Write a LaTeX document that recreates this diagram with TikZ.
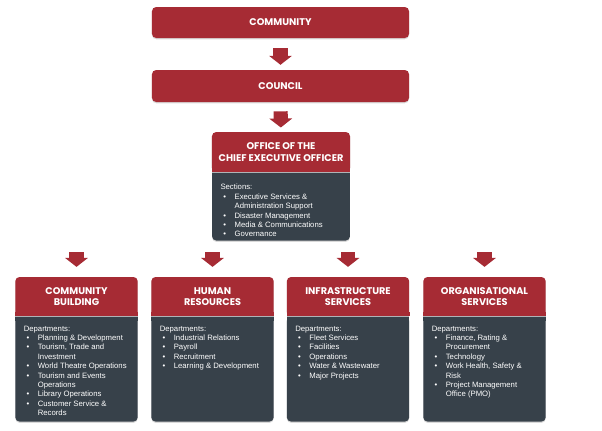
\documentclass[tikz,border=0pt]{standalone}
\usepackage{fontspec}
\newfontfamily\headfont{Poppins}
\newfontfamily\bodyfont{Liberation Sans}
\usetikzlibrary{arrows.meta,shadows}

\definecolor{orgred}{RGB}{166,43,52}
\definecolor{orgslate}{RGB}{55,65,74}

% one bullet line with hanging indent
\newcommand{\itm}[1]{\par\noindent\hangindent=10pt\hangafter=1\makebox[10pt][l]{\hspace{2pt}\textbullet}#1}
% height, width, top padding, lines
\newcommand{\deptlist}[4]{\parbox[c][#1][t]{#2}{\raggedright\vspace*{#3}#4}}

\begin{document}
\begin{tikzpicture}[x=0.025cm,y=-0.025cm,
    box/.style={fill=orgred,rounded corners=3pt,text=white,inner sep=0pt,align=center,
      font=\headfont\bfseries\fontsize{6.9}{8.2}\selectfont,
      drop shadow={shadow xshift=0pt,shadow yshift=-0.9pt,opacity=0.3}},
    deptbox/.style={fill=orgslate,rounded corners=3pt,text=white,anchor=north,
      inner xsep=6pt,inner ysep=0pt,font=\bodyfont\fontsize{5.5}{6.64}\selectfont,
      drop shadow={shadow xshift=0pt,shadow yshift=-0.9pt,opacity=0.3}},
    flow/.style={color=orgred,line width=10pt,-{Triangle[width=16pt,length=6.4pt]}}]
  \useasboundingbox (0,0) rectangle (602,430);

  \node[box,minimum width=6.425cm,minimum height=0.775cm] (community) at (280.5,22.5) {COMMUNITY};
  \node[box,minimum width=6.425cm,minimum height=0.8cm] (council) at (280.5,86) {COUNCIL};

  \node[box,minimum width=3.45cm,minimum height=1cm] (ceo) at (281,152) {OFFICE OF THE\\CHIEF EXECUTIVE OFFICER};
  \node[deptbox] (ceo-body) at (ceo.south) {\deptlist{1.7cm}{86pt}{8.4pt}{Sections:
      \itm{Executive Services \&\newline Administration Support}
      \itm{Disaster Management}
      \itm{Media \& Communications}
      \itm{Governance}}};

  \node[box,minimum width=3.06cm,minimum height=0.975cm] (cb) at (76.5,296.5) {COMMUNITY\\BUILDING};
  \node[deptbox] (cb-body) at (cb.south) {\deptlist{2.625cm}{75pt}{6.7pt}{Departments:
      \itm{Planning \& Development}
      \itm{Tourism, Trade and\newline Investment}
      \itm{World Theatre Operations}
      \itm{Tourism and Events\newline Operations}
      \itm{Library Operations}
      \itm{Customer Service \&\newline Records}}};

  \node[box,minimum width=3.06cm,minimum height=0.975cm] (hr) at (212.5,296.5) {HUMAN\\RESOURCES};
  \node[deptbox] (hr-body) at (hr.south) {\deptlist{2.625cm}{75pt}{6.7pt}{Departments:
      \itm{Industrial Relations}
      \itm{Payroll}
      \itm{Recruitment}
      \itm{Learning \& Development}}};

  \node[box,minimum width=3.06cm,minimum height=0.975cm] (infra) at (348,296.5) {INFRASTRUCTURE\\SERVICES};
  \node[deptbox] (infra-body) at (infra.south) {\deptlist{2.625cm}{75pt}{6.7pt}{Departments:
      \itm{Fleet Services}
      \itm{Facilities}
      \itm{Operations}
      \itm{Water \& Wastewater}
      \itm{Major Projects}}};

  \node[box,minimum width=3.06cm,minimum height=0.975cm] (org) at (484.5,296.5) {ORGANISATIONAL\\SERVICES};
  \node[deptbox] (org-body) at (org.south) {\deptlist{2.625cm}{75pt}{6.7pt}{Departments:
      \itm{Finance, Rating \&\newline Procurement}
      \itm{Technology}
      \itm{Work Health, Safety \&\newline Risk}
      \itm{Project Management\newline Office (PMO)}}};

  % square off the joint between title and list
  \foreach \grp in {ceo,cb,hr,infra,org}{
      \fill[orgred] (\grp.south west) rectangle ([yshift=3pt]\grp.south east);
      \fill[orgslate] (\grp-body.north west) rectangle ([yshift=-3pt]\grp-body.north east);
      \draw[white,opacity=0.6,line width=0.5pt] (\grp.south west) -- (\grp.south east);
    }

  \draw[flow,shorten <=7pt,shorten >=3.5pt] (community) -- (council);
  \draw[flow,shorten <=6.4pt,shorten >=3pt] (council) -- (ceo);

  \foreach \grp/\x in {cb/76.5,hr/212.5,infra/348,org/484.5}{
      \coordinate (\grp-in) at (\x,252);
      \draw[flow,shorten >=7pt] (\grp-in) -- (\grp);
    }
\end{tikzpicture}
\end{document}
